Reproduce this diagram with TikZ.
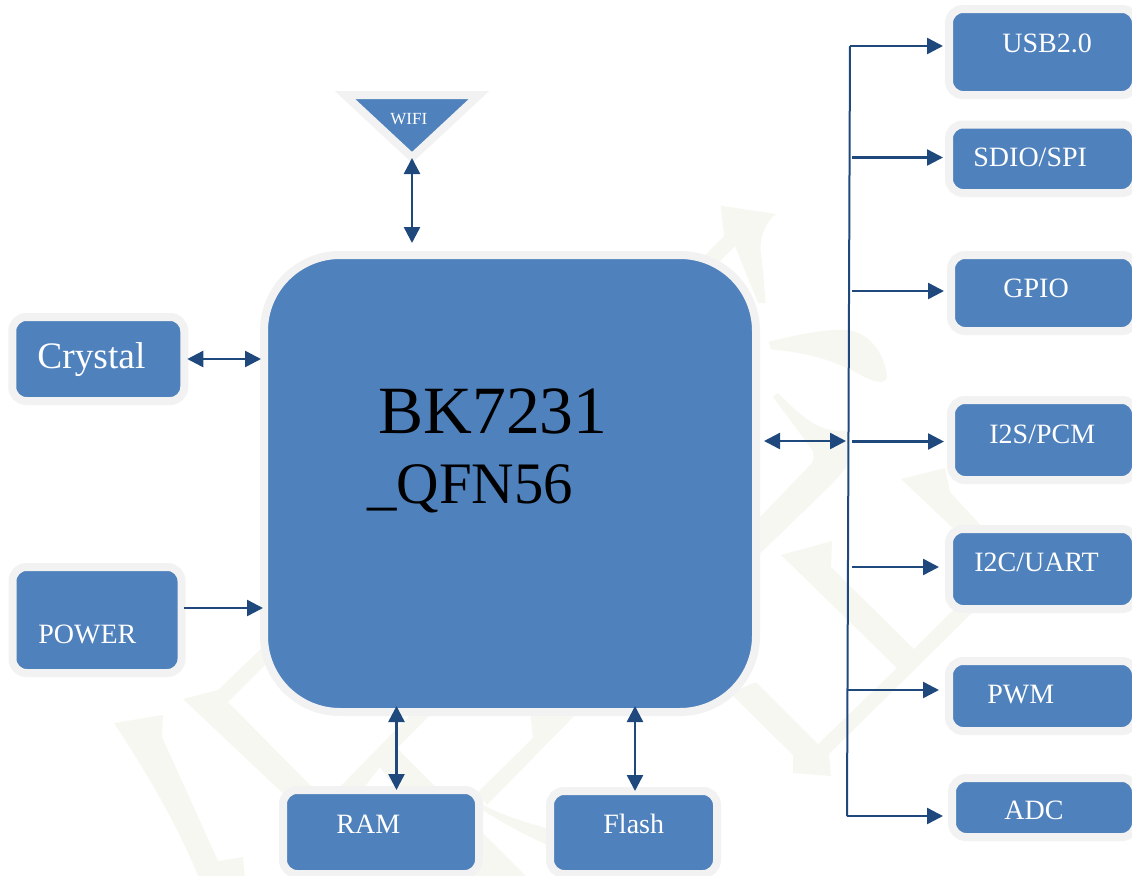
\documentclass[tikz,border=0pt]{standalone}
\usepackage{fontspec}
\setmainfont{Liberation Serif}
\usepackage{xcolor}
\usepackage{tikz}
\usetikzlibrary{calc}
\usetikzlibrary{arrows.meta}
\definecolor{blockblue}{HTML}{4F81BD}
\definecolor{blockedge}{HTML}{F2F2F2}
\definecolor{wiredark}{HTML}{1F497D}
\definecolor{wmark}{HTML}{F7F7F2}
\tikzset{
  blockbox/.style={draw=blockedge, fill=blockblue, line width=4pt, rounded corners=7pt, inner sep=0pt},
  chipbox/.style={blockbox, rounded corners=38pt},
  blocktext/.style={anchor=base west, inner sep=0pt, text=white, font=\fontsize{14}{14}\selectfont},
  chiptext/.style={anchor=base west, inner sep=0pt, text=black},
  onearrow/.style={wiredark, line width=1.25pt, -{Triangle[length=8pt,width=8pt]}},
  twoarrow/.style={wiredark, line width=1.25pt, {Triangle[length=8pt,width=8pt]}-{Triangle[length=8pt,width=8pt]}},
}
\begin{document}
\begin{tikzpicture}[x=0.5pt,y=-0.5pt]
  \clip (0,0) rectangle (1132,875);
  \fill[white] (0,0) rectangle (1132,875);

  % Watermark strokes behind everything
  \fill[wmark] (700,260) -- (724,236) -- (720.7,205.7) -- (776,214)
    .. controls (762,225) and (758,245) .. (762,260) -- (765.7,303) -- (758,303) -- (735,246) -- (700,281) -- cycle;
  \fill[wmark] (768.7,341.7) .. controls (800,334) and (825,329) .. (846.7,330)
    .. controls (870,332) and (885,355) .. (887,376.7) .. controls (886,385) and (875,383) .. (856.7,373)
    .. controls (830,358) and (800,352) .. (770.7,349.3) -- cycle;
  \fill[wmark] (778,393) .. controls (800,415) and (820,435) .. (848,430) -- (846.7,467) -- (833,483) -- (740,573) -- (740,538)
    -- (812,463) .. controls (815,455) and (813,450) .. (810,447) -- (773,397) -- cycle;
  \fill[wmark] (781,555) -- (832,541) -- (831,567) -- (914,649) -- (953,610) -- (975,610) -- (829,754)
    -- (831,776) -- (793,773) -- (793,755) -- (730,693) -- (756,682) -- (818,744) -- (897,668) -- cycle;
  \fill[wmark] (901,479) -- (945,468) -- (950,492) -- (985,530) -- (955,530) -- cycle;
  \fill[wmark] (270,640) -- (218,690) -- (183,699) -- (290,800) -- (312,787) -- (228,702) -- (270,660) -- cycle;
  \fill[wmark] (335,792) -- (420,705) -- (440,705) -- (397,748) -- (436,787) -- (440,795) -- (400,795) -- (380,767) -- (362,790) -- cycle;
  \fill[wmark] (477,793) -- (533,738) -- (530,710) -- (580,710) -- (487,805) -- cycle;
  \fill[wmark] (480,803) .. controls (500,815) and (525,822) .. (552,830) -- (552,847) .. controls (525,835) and (500,822) .. (480,808) -- cycle;
  \fill[wmark] (475,825) -- (530,880) -- (475,880) -- cycle;
  \fill[wmark] (114,723) -- (163,715) -- (162,737) -- (218,861) -- (243,857) -- (245,880) -- (200,880)
    .. controls (175,820) and (145,770) .. (114,723) -- cycle;

  % Blocks
  \node[chipbox, minimum width=246pt, minimum height=228.5pt] (bk) at (510,483.5) {};
  \node[blockbox, minimum width=86pt,  minimum height=42pt] (crystal) at (98.25,359) {};
  \node[blockbox, minimum width=84.5pt,minimum height=53pt] (power)   at (97,620) {};
  \node[blockbox, minimum width=98pt,  minimum height=42pt] (ram)     at (381,832) {};
  \node[blockbox, minimum width=83.5pt,minimum height=41.5pt] (flash) at (633.5,832.5) {};
  \node[blockbox, minimum width=93.5pt,minimum height=43pt] (usb)     at (1042.5,52) {};
  \node[blockbox, minimum width=93.5pt,minimum height=34.25pt] (sdio) at (1042.5,158.75) {};
  \node[blockbox, minimum width=92.5pt,minimum height=38pt] (gpio)    at (1043.5,293) {};
  \node[blockbox, minimum width=92.5pt,minimum height=40pt] (iis)     at (1043.5,440) {};
  \node[blockbox, minimum width=93.5pt,minimum height=40pt] (iic)     at (1042.5,569) {};
  \node[blockbox, minimum width=93.5pt,minimum height=35pt] (pwm)     at (1042.5,696) {};
  \node[blockbox, minimum width=92pt,  minimum height=29.5pt] (adc)   at (1044,807.5) {};

  % Antenna
  \draw[blockbox, rounded corners=0pt] (345,95) -- (479,95) -- (412,157.4) -- cycle;
  \coordinate (wifitip) at (412,158);

  % Texts
  \node[chiptext, font=\fontsize{33.8}{34}\selectfont] (bkname) at (378,433) {BK7231};
  \node[chiptext, font=\fontsize{29.4}{30}\selectfont] (bkpack) at (367,503.5) {\_QFN56};
  \node[blocktext, font=\fontsize{8.5}{9}\selectfont] (wifitext) at (390,124) {WIFI};
  \node[blocktext, font=\fontsize{18.7}{19}\selectfont] (crystaltext) at (37,368) {Crystal};
  \node[blocktext] (powertext) at (38,643) {POWER};
  \node[blocktext] (ramtext) at (336,833) {RAM};
  \node[blocktext] (flashtext) at (603,833) {Flash};
  \node[blocktext] (usbtext) at (1002,52) {USB2.0};
  \node[blocktext] (sdiotext) at (973,166) {SDIO/SPI};
  \node[blocktext] (gpiotext) at (1003,297) {GPIO};
  \node[blocktext] (iistext) at (989,443) {I2S/PCM};
  \node[blocktext] (iictext) at (974,571) {I2C/UART};
  \node[blocktext] (pwmtext) at (987,703) {PWM};
  \node[blocktext] (adctext) at (1004,819) {ADC};

  % Left and top links
  \draw[twoarrow, shorten <=-0.5pt, shorten >=-0.5pt] (crystal.east) -- (crystal.east -| bk.west);
  \coordinate (powerout) at ([yshift=6pt]power.east);
  \draw[onearrow, shorten <=-1pt, shorten >=-1.5pt] (powerout) -- (powerout -| bk.west);
  \draw[twoarrow, shorten >=4pt] (wifitip) -- (wifitip |- bk.north);

  % Bottom links
  \coordinate (ramport) at ([xshift=7.75pt]ram.north);
  \draw[twoarrow, shorten <=-2pt, shorten >=-5pt] (ramport) -- (ramport |- bk.south);
  \coordinate (flashport) at ([xshift=0.75pt]flash.north);
  \draw[twoarrow, shorten <=-2pt, shorten >=-5pt] (flashport) -- (flashport |- bk.south);

  % Right bus
  \coordinate (bustop) at (850,46);
  \coordinate (busbot) at (847,816);
  \coordinate (buschip) at (846,441);
  \draw[wiredark, line width=1pt] (bustop) -- (busbot);
  \draw[twoarrow, shorten <=2pt] (bk.east |- buschip) -- (buschip);
  \foreach \port/\xpos/\ypos/\gap in {usb/850/46/1pt, sdio/852/157.5/1pt, gpio/852/291/1.5pt, iis/852/441.5/1.5pt,
                                      iic/852/567/3pt, pwm/847/690/3pt, adc/847/816/2.5pt}
    \draw[onearrow, shorten >=\gap] (\xpos,\ypos) -- (\port.west |- 0,\ypos);
\end{tikzpicture}
\end{document}
